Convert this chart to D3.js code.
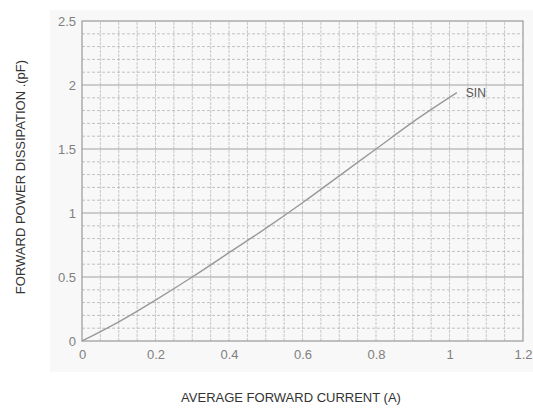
<!DOCTYPE html>
<html>
<head>
<meta charset="utf-8">
<script src="https://cdn.jsdelivr.net/npm/d3@7"></script>
<style>
  body { margin: 0; background: #fff; }
  text { font-family: "Liberation Sans", Arial, sans-serif; }
</style>
</head>
<body>
<div id="chart"></div>
<script>
// values
const currents = [0, 0.1, 0.2, 0.3, 0.4, 0.5, 0.6, 0.7, 0.8, 0.9, 1.02];
const power = [0, 0.15, 0.32, 0.5, 0.69, 0.88, 1.08, 1.29, 1.5, 1.71, 1.94];
const xTicks = [0, 0.2, 0.4, 0.6, 0.8, 1, 1.2];
const yTicks = [0, 0.5, 1, 1.5, 2, 2.5];
const seriesName = "SIN";

const width = 533;
const height = 408;
const margin = { left: 82, right: 10, top: 21, bottom: 67 };

const svg = d3.select("#chart").append("svg")
  .attr("width", width)
  .attr("height", height);

// faint scanned-paper panel
svg.append("rect")
  .attr("x", 50).attr("y", 10)
  .attr("width", 483).attr("height", 362)
  .attr("fill", "#f8f8f8");

const x = d3.scaleLinear().domain([0, 1.2]).range([margin.left, width - margin.right]);
const y = d3.scaleLinear().domain([0, 2.5]).range([height - margin.bottom, margin.top]);

const g = svg.append("g");

//------------------------------------------------------------- grid
// vertical lines every 0.05
g.selectAll(".vgrid")
  .data(d3.range(1, 24).map(i => i * 0.05))
  .enter().append("line")
  .attr("x1", d => x(d)).attr("x2", d => x(d))
  .attr("y1", y(0)).attr("y2", y(2.5))
  .attr("stroke", "#bbb")
  .attr("stroke-width", 0.8)
  .attr("stroke-dasharray", "3,1");

// minor horizontal dashed every 0.1
g.selectAll(".hminor")
  .data(d3.range(1, 25).map(i => i * 0.1).filter(v => Math.abs(v * 2 - Math.round(v * 2)) > 1e-6))
  .enter().append("line")
  .attr("x1", x(0)).attr("x2", x(1.2))
  .attr("y1", d => y(d)).attr("y2", d => y(d))
  .attr("stroke", "#b5b5b5")
  .attr("stroke-width", 0.8)
  .attr("stroke-dasharray", "3,2");

// major horizontal every 0.5
g.selectAll(".hmajor")
  .data(yTicks.slice(1, -1))
  .enter().append("line")
  .attr("x1", x(0)).attr("x2", x(1.2))
  .attr("y1", d => y(d)).attr("y2", d => y(d))
  .attr("stroke", "#a0a0a0")
  .attr("stroke-width", 1);

// frame
g.append("rect")
  .attr("x", x(0)).attr("y", y(2.5))
  .attr("width", x(1.2) - x(0)).attr("height", y(0) - y(2.5))
  .attr("fill", "none")
  .attr("stroke", "#999")
  .attr("stroke-width", 1.2);

//------------------------------------------------------------- axes
const xAxis = d3.axisBottom(x).tickValues(xTicks).tickSize(0).tickPadding(9)
  .tickFormat(d => d3.format("")(d));
const yAxis = d3.axisLeft(y).tickValues(yTicks).tickSize(0).tickPadding(6)
  .tickFormat(d => d3.format("")(d));

const gx = svg.append("g")
  .attr("transform", "translate(0," + y(0) + ")")
  .call(xAxis);
const gy = svg.append("g")
  .attr("transform", "translate(" + x(0) + ",0)")
  .call(yAxis);

[gx, gy].forEach(a => {
  a.select(".domain").remove();
  a.selectAll("text")
    .attr("fill", "#808080")
    .attr("font-size", 13)
    .attr("font-family", "'Liberation Sans', Arial, sans-serif");
});

//------------------------------------------------------------- curve
const pts = currents.map((c, i) => [c, power[i]]);
svg.append("path")
  .datum(pts)
  .attr("fill", "none")
  .attr("stroke", "#999")
  .attr("stroke-width", 1.4)
  .attr("d", d3.line().x(d => x(d[0])).y(d => y(d[1])).curve(d3.curveMonotoneX));

svg.append("text")
  .attr("x", x(currents[currents.length - 1]) + 9)
  .attr("y", y(power[power.length - 1]) + 4)
  .attr("fill", "#555")
  .attr("font-size", 12)
  .text(seriesName);

//------------------------------------------------------------- labels
svg.append("text")
  .attr("x", 291)
  .attr("y", 402)
  .attr("text-anchor", "middle")
  .attr("fill", "#333")
  .attr("font-size", 13)
  .text("AVERAGE FORWARD CURRENT (A)");

svg.append("text")
  .attr("transform", "translate(25,177) rotate(-90)")
  .attr("text-anchor", "middle")
  .attr("fill", "#333")
  .attr("font-size", 13)
  .text("FORWARD POWER DISSIPATION .(pF)");
</script>
</body>
</html>
